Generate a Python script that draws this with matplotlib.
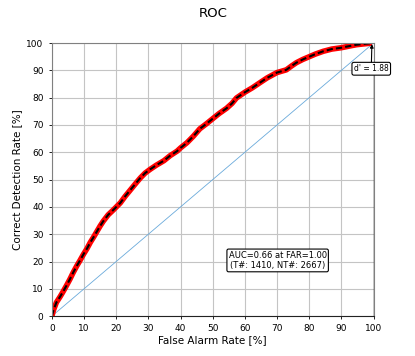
import matplotlib
matplotlib.use("Agg")
import matplotlib.pyplot as plt
import numpy as np

# ROC curve (percent)
far = [0, 0.5, 1.4, 2.6, 3.5, 4.6, 5.6, 6.6, 7.7, 8.8, 9.8, 10.9, 11.9, 13.0, 14.0,
       15.0, 16.0, 17.5, 19.2, 21.3, 22.8, 24.4, 26.0, 27.5, 29.0, 30.6, 32.5, 34.8,
       36.8, 38.9, 40.0, 42.0, 44.0, 46.0, 48.0, 50.0, 52.0, 54.3, 56.0, 57.4, 60.0,
       62.3, 64.7, 67.0, 70.0, 72.9, 74.5, 76.0, 78.0, 80.0, 82.0, 84.4, 87.0, 90.0,
       92.5, 94.7, 97.0, 99.5]
cdr = [0, 2.2, 5.0, 7.2, 9.0, 11.3, 13.5, 15.9, 18.3, 20.5, 22.6, 24.7, 26.9, 29.0, 31.0,
       33.0, 34.8, 37.1, 39.0, 41.5, 43.9, 46.2, 48.5, 50.6, 52.4, 53.8, 55.3, 56.9,
       58.8, 60.4, 61.6, 63.5, 65.9, 68.6, 70.4, 72.3, 74.2, 76.1, 77.9, 79.9, 82.0,
       83.6, 85.5, 87.3, 89.2, 90.2, 91.6, 92.8, 94.0, 95.0, 96.0, 97.0, 97.8, 98.3,
       98.9, 99.4, 99.7, 100.0]

auc_text = "AUC=0.66 at FAR=1.00\n(T#: 1410, NT#: 2667)"
dprime_text = "d' = 1.88"

fig, ax = plt.subplots(figsize=(4.15, 3.56), dpi=100)

ax.grid(True, color="#c4c4c4", linewidth=0.8)
ax.set_axisbelow(True)

ax.plot([0, 100], [0, 100], color="#6aaadb", linewidth=0.6)
ax.plot(far, cdr, color="red", linewidth=4.0, solid_capstyle="butt")
ax.plot(far, cdr, color="black", linewidth=1.5, linestyle=(0, (3, 1.5)))
ax.plot([100, 100], [0, 90], color="black", linewidth=1.0)

ax.annotate(dprime_text, xy=(99.5, 99.6), xytext=(99.3, 90.6),
            fontsize=5.5, ha="center", va="center",
            bbox=dict(boxstyle="round,pad=0.25", fc="white", ec="black", lw=0.8),
            arrowprops=dict(arrowstyle="-|>", color="black", lw=0.8,
                            mutation_scale=5, shrinkA=0, shrinkB=0))
ax.text(70.2, 20.4, auc_text, fontsize=6, ha="center", va="center",
        bbox=dict(boxstyle="round,pad=0.2", fc="white", ec="black", lw=0.8))

ax.set_xlim(0, 100)
ax.set_ylim(0, 100)
ax.set_xticks(np.arange(0, 101, 10))
ax.set_yticks(np.arange(0, 101, 10))
ax.tick_params(labelsize=6.5, length=2.5, width=0.6)
for side in ["top", "left", "right"]:
    ax.spines[side].set_color("#808080")
ax.spines["bottom"].set_color("#222222")

ax.set_xlabel("False Alarm Rate [%]", fontsize=7.5, labelpad=1)
ax.set_ylabel("Correct Detection Rate [%]", fontsize=7.5, labelpad=3)
ax.set_title("ROC", fontsize=9.5, pad=19)

fig.subplots_adjust(left=0.125, right=0.9, bottom=0.112, top=0.879)
fig.savefig("out.png", dpi=100)
